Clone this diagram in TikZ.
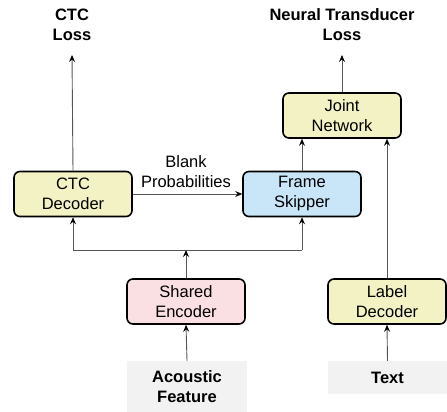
\documentclass[tikz,border=0pt]{standalone}
\usepackage{fontspec}
\setmainfont{Liberation Sans}
\usetikzlibrary{arrows.meta}
\definecolor{cyel}{HTML}{F2F2C4}
\definecolor{cblu}{HTML}{C8E6F8}
\definecolor{cpnk}{HTML}{FBE0E3}
\definecolor{cgry}{HTML}{F2F2F2}
\definecolor{cline}{HTML}{555555}
\begin{document}
\begin{tikzpicture}[x=1pt,y=-1pt,
  blk/.style={draw=black,line width=1.6pt,rounded corners=6pt,minimum width=118pt,minimum height=45pt,inner sep=0pt,align=center,font=\fontsize{16.5}{20}\selectfont},
  inp/.style={fill=cgry,minimum width=120pt,inner sep=0pt,align=center,font=\fontsize{16.5}{20}\selectfont\bfseries},
  lbl/.style={align=center,inner sep=1pt,font=\fontsize{16.5}{20}\selectfont},
  conn/.style={draw=cline,line width=0.9pt,-{Stealth[length=7pt,width=6pt,inset=2.5pt,black]}},
  plain/.style={draw=cline,line width=0.9pt}]
\useasboundingbox (0,0) rectangle (447,412);
\node[lbl,font=\fontsize{16.5}{20}\selectfont\bfseries] (ctcloss) at (72,25) {CTC\\Loss};
\node[lbl,font=\fontsize{16.5}{20}\selectfont\bfseries] (ntloss) at (342,25) {Neural Transducer\\Loss};
\node[blk,fill=cyel] (joint) at (342,115.5) {Joint\\Network};
\node[blk,fill=cyel] (ctc) at (73,194) {CTC\\Decoder};
\node[blk,fill=cblu] (fs) at (302,194) {Frame\\Skipper};
\node[blk,fill=cpnk] (enc) at (186,301.5) {Shared\\Encoder};
\node[blk,fill=cyel] (lab) at (387,301.5) {Label\\Decoder};
\node[inp,minimum height=51pt] (ac) at (187,386.5) {Acoustic\\Feature};
\node[inp,minimum height=33pt,minimum width=119pt] (txt) at (387.5,377.5) {Text};
\coordinate (br) at (186,250);
\coordinate (brl) at (73,250);
\coordinate (brr) at (302,250);
\draw[conn] (ac.north) -- (enc.south);
\draw[conn] (txt.north) -- (lab.south);
\draw[conn] (enc.north) -- (br);
\draw[plain] (brl) -- (brr);
\draw[conn] (brl) -- (ctc.south);
\draw[conn] (brr) -- (fs.south);
\draw[conn] (ctc.east) -- (fs.west);
\node[lbl] (blank) at (186,172) {Blank\\Probabilities};
\draw[conn] (ctc.north) -- (72,55);
\draw[conn] (fs.north) -- (fs.north |- joint.south);
\draw[conn] (lab.north) -- (lab.north |- joint.south);
\draw[conn] (joint.north) -- (342,55);
\end{tikzpicture}
\end{document}
